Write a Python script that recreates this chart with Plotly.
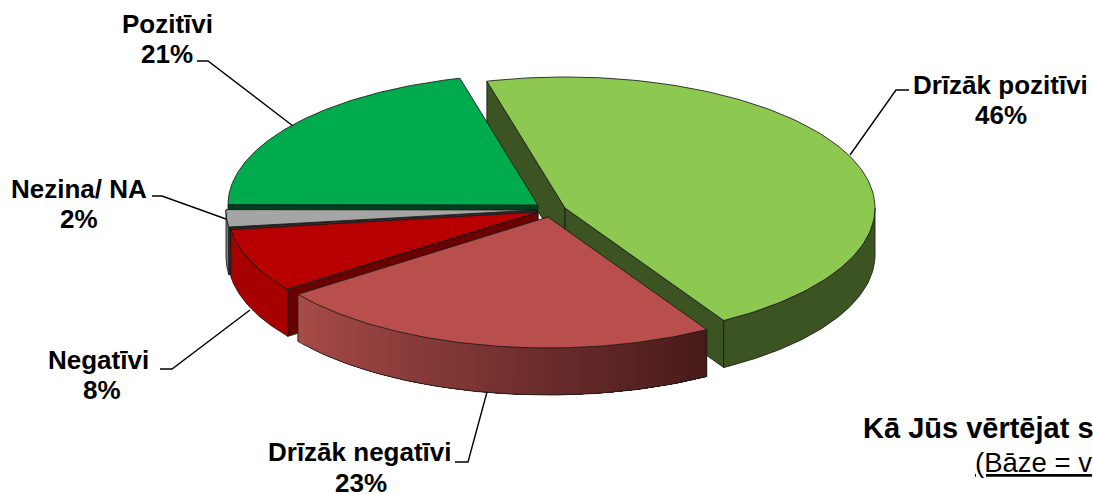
import numpy as np
import plotly.graph_objects as go

categories = ["Drīzāk pozitīvi", "Drīzāk negatīvi", "Negatīvi", "Nezina/ NA", "Pozitīvi"]
values = [45.5, 23.5, 7.9, 2.2, 20.9]
percent_labels = ["46%", "23%", "8%", "2%", "21%"]
top_colors = ["#8DC951", "#B94F4C", "#B90000", "#A5A5A5", "#00AB4E"]
wall_colors = ["#3C5421", None, "#A60000", "#7F7F7F", "#00572A"]
face_colors = ["#3C5421", None, "#6B0000", "#2E2E2E", "#00401F"]
slice_centres = [(565, 208), (548, 217), (538, 212), (536, 210), (538, 205)]
label_positions = [(1000, 1001, 85, 115), (360, 361, 452, 483), (98, 102, 360, 390),
                   (79, 79, 189, 219), (167, 167, 24, 54)]
leaders = [
    ([909, 896, 850], [90, 90, 155]),
    ([455, 468, 487], [462, 462, 392]),
    ([160, 172, 250], [369, 369, 310]),
    ([152, 162, 226], [196, 196, 219]),
    ([197, 208, 293], [61, 61, 126]),
]
START_ANGLE = 104.6
RX, RY, DEPTH = 310, 131, 47
EDGE = "rgba(25,25,25,0.85)"

fig = go.Figure()


def poly(xs, ys, fill, edge=EDGE, width=1):
    fig.add_trace(go.Scatter(
        x=list(xs), y=list(ys), mode="lines", fill="toself", fillcolor=fill,
        line=dict(color=edge or fill, width=width), hoverinfo="skip", showlegend=False))


def arc(c, a0, a1, n=80, dy=0):
    t = np.radians(np.linspace(a0, a1, n))
    return c[0] + RX * np.cos(t), c[1] - RY * np.sin(t) + dy


# slice angles derived from values (clockwise from START_ANGLE)
bounds = [START_ANGLE]
for v in values:
    bounds.append(bounds[-1] - v / sum(values) * 360)


def radial_face(i, a):
    c = slice_centres[i]
    x, y = arc(c, a, a, 1)
    poly([c[0], x[0], x[0], c[0], c[0]],
         [c[1], y[0], y[0] + DEPTH, c[1] + DEPTH, c[1]], face_colors[i])


def wall(i, a0, a1):
    c = slice_centres[i]
    x0, y0 = arc(c, a0, a1)
    x1, y1 = arc(c, a1, a0, dy=DEPTH)
    poly(np.r_[x0, x1, x0[0]], np.r_[y0, y1, y0[0]], wall_colors[i])


def top(i):
    c = slice_centres[i]
    x, y = arc(c, bounds[i], bounds[i + 1], 120)
    poly(np.r_[c[0], x, c[0]], np.r_[c[1], y, c[1]], top_colors[i])


# back to front: light green slice
radial_face(0, bounds[0])
radial_face(0, bounds[1])
wall(0, 0, bounds[1])
top(0)

# green slice
radial_face(4, bounds[4])
top(4)

# grey slice
wall(3, -180, bounds[3])
radial_face(3, bounds[3])
top(3)

# dark red slice
radial_face(2, bounds[2])
wall(2, bounds[3], bounds[2])
top(2)

# red slice with gradient wall (each strip overlaps the rest, so no seams)
c = slice_centres[1]
N = 48
g0, g1 = np.array([0xA8, 0x4C, 0x48]), np.array([0x48, 0x1B, 0x1B])
edges = np.linspace(bounds[2], bounds[1], N + 1)
for k in range(N):
    x0, y0 = arc(c, edges[k], bounds[1], 60)
    x1, y1 = arc(c, bounds[1], edges[k], 60, dy=DEPTH)
    col = "rgb(%d,%d,%d)" % tuple(g0 + (g1 - g0) * k / (N - 1))
    fig.add_trace(go.Scatter(
        x=np.r_[x0, x1, x0[0]], y=np.r_[y0, y1, y0[0]], mode="lines", fill="toself",
        fillcolor=col, line=dict(width=0), hoverinfo="skip", showlegend=False))
x0, y0 = arc(c, bounds[2], bounds[1])
x1, y1 = arc(c, bounds[2], bounds[1], dy=DEPTH)
fig.add_trace(go.Scatter(
    x=np.r_[x0[0], x1, x0[-1]], y=np.r_[y0[0], y1, y0[-1]],
    mode="lines", line=dict(color=EDGE, width=1), hoverinfo="skip", showlegend=False))
top(1)

# leader lines
for lx, ly in leaders:
    fig.add_trace(go.Scatter(x=lx, y=ly, mode="lines", line=dict(color="black", width=1.4),
                             hoverinfo="skip", showlegend=False))

FONT = "Liberation Sans, Arial, sans-serif"
for name, pct, (xn, xp, yn, yp) in zip(categories, percent_labels, label_positions):
    for txt, xx, yy in ((name, xn, yn), (pct, xp, yp)):
        fig.add_annotation(x=xx, y=yy, text=f"<b>{txt}</b>", showarrow=False,
                           xanchor="center", yanchor="middle", align="center",
                           font=dict(family=FONT, size=26, color="black"))

fig.add_annotation(x=861, y=428, text="<b>Kā Jūs vērtējat s</b>", showarrow=False,
                   xanchor="left", yanchor="middle", font=dict(family=FONT, size=29, color="black"))
fig.add_annotation(x=973, y=462, text="<u>(Bāze = v</u>", showarrow=False,
                   xanchor="left", yanchor="middle", font=dict(family=FONT, size=27.5, color="black"))

fig.update_layout(
    width=1093, height=494, margin=dict(l=0, r=0, t=0, b=0),
    paper_bgcolor="white", plot_bgcolor="white", showlegend=False,
    xaxis=dict(range=[0, 1093], visible=False, fixedrange=True),
    yaxis=dict(range=[494, 0], visible=False, fixedrange=True),
)
fig.write_html("out.html", config={"displayModeBar": False},
               post_script="document.body.style.margin='0';document.body.style.overflow='hidden';")
